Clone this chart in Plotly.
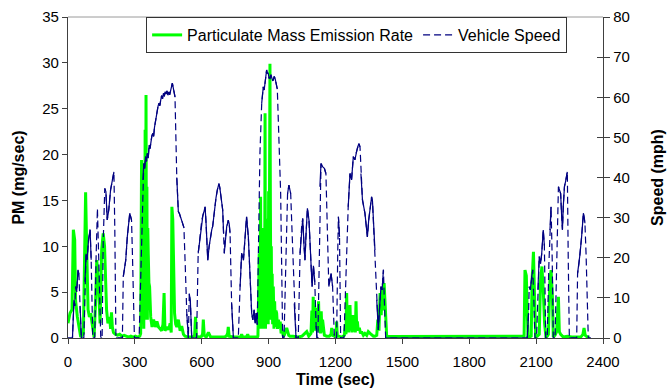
import numpy as np
import plotly.graph_objects as go

# ---------------- data ----------------
speed_t = [0, 20, 27, 31, 34, 39, 45, 49, 54, 60,
           71, 76, 81, 86, 92, 99, 104, 111,
           120, 126, 132, 138, 147,
           153, 158, 165, 170, 176, 183, 191, 198, 206, 210, 215,
           244, 248, 259, 266, 277, 285, 289, 298,
           319, 326, 331, 336, 340, 344, 348, 352, 356, 360, 364, 368, 372, 376, 380, 384, 388, 392, 396, 400,
           404, 408, 412, 416, 420, 424, 428, 432, 436, 440, 444, 448, 452, 456, 460, 464, 468, 472, 476, 480,
           484, 488, 495, 500, 505, 510, 514, 520, 526, 533, 540,
           544, 549, 555,
           577, 584, 590, 596, 600, 605, 610, 615, 619, 622, 627, 633, 640, 645, 649, 654, 659, 664, 670, 674,
           677, 681, 685, 690, 694, 698, 701, 706, 712, 716, 719, 723, 727, 734, 742,
           764, 772, 779, 787, 794, 801, 809, 813, 820, 824, 829, 832, 835, 838, 840, 844, 847, 849, 854, 861,
           869, 876, 880, 884, 888, 891, 894, 898, 902, 906, 910, 914, 918, 921, 925, 929, 932, 936, 939, 954, 963,
           969, 978, 985, 991, 999, 1006, 1015, 1023,
           1033, 1041, 1048, 1053, 1059, 1063, 1068, 1074, 1081, 1089, 1095, 1101, 1107, 1113, 1117,
           1121, 1125, 1130, 1135, 1142, 1150, 1157, 1163, 1170, 1180, 1187, 1195,
           1205, 1210, 1213, 1218, 1223,
           1238, 1247, 1257, 1265, 1272, 1280, 1287, 1292, 1298, 1305, 1310, 1314, 1321, 1332, 1336,
           1343, 1349, 1355, 1362, 1366, 1373, 1377, 1385, 1392, 1398, 1404, 1409, 1415, 1419, 1425,
           2050, 2060, 2066, 2069, 2074, 2080, 2085, 2090, 2095,
           2102, 2108, 2114, 2120, 2125, 2132, 2137, 2143,
           2150, 2157, 2162, 2167, 2172, 2177,
           2185, 2192, 2200, 2205, 2210, 2214, 2218, 2222, 2227, 2232, 2237, 2240, 2244, 2249,
           2282, 2286, 2292, 2297, 2304, 2312, 2316, 2319, 2324, 2330, 2334, 2345]
speed_mph = [0, 0, 9.5, 8, 12.8, 11.5, 17, 16, 8, 0,
             0, 14, 21, 19.5, 24.4, 27, 19.5, 0,
             0, 20, 32.3, 19.5, 0,
             0, 24, 37.3, 36.5, 29.4, 32, 36.9, 39.4, 41.4, 27, 0,
             0, 15.3, 19.4, 25.2, 31.1, 29.4, 21, 0,
             0, 15, 30.2, 39.4, 43.5, 42.2, 45.2, 44.0, 46.0, 44.8, 48.1, 47.2, 49.5, 50.3, 51.0, 50.2, 52.5, 54.0, 55.6, 56.8,
             57.8, 58.5, 57.9, 59.3, 60.4, 59.6, 61.0, 60.2, 61.4, 60.8, 61.6, 60.5, 61.3, 60.6, 61.5, 62.0, 63.5, 62.4, 61.0, 60.1,
             50, 40, 31.5, 31.0, 30.0, 29.5, 28.6, 27.5, 18, 6, 0,
             11.1, 9, 0,
             0, 21.1, 24, 27.5, 29.4, 30.5, 31.5, 32.7, 29, 25.2, 19.4, 22.8, 26.1, 27.0, 27.8, 30.5, 32.7, 35, 36.9, 38,
             38.5, 37.5, 36, 34, 31.9, 26, 21.1, 25, 27.8, 28.6, 29.4, 28.5, 26.1, 8.6, 0,
             0, 12.8, 21.1, 19.4, 25.2, 30.2, 25.2, 19.4, 11.1, 6.2, 4.5, 6, 7.0, 4.5, 3.7, 6.2, 4, 3.3, 21, 46,
             58.5, 62.6, 61.8, 63.5, 64.5, 66.8, 66, 66, 64.8, 64.7, 65.6, 65.1, 64.2, 64.3, 65.2, 64.7, 63.8, 63.5, 62, 36, 0,
             0, 21.1, 36, 38.1, 36, 25.2, 8.6, 0,
             0, 21.1, 27.7, 29.8, 22.8, 19.4, 26.1, 32.3, 29.4, 21.1, 12.8, 18, 14, 3, 0,
             0, 12.8, 37.7, 43.5, 42.7, 42.3, 41, 25.2, 12.8, 16.1, 12.8, 0,
             0, 21.1, 30.2, 25.2, 0,
             0, 16, 32.7, 41, 39.4, 45.2, 44.4, 46, 47.3, 48.5, 47.6, 41, 34.4, 31.1, 28.6,
             25.2, 29.4, 32.7, 35.2, 34, 26.1, 21.9, 9.5, 2, 7.8, 12.8, 12, 17, 9.5, 0,
             0, 0, 6.2, 12.8, 12, 15.3, 17, 9, 0,
             0, 12, 20.3, 18.5, 21, 26.9, 23, 0,
             0, 18, 26.9, 32.7, 20, 0,
             0, 20, 37.7, 37, 36, 31, 27, 33, 37.7, 39, 40.2, 41.4, 20, 0,
             0, 16.1, 18.5, 21, 25.2, 31.1, 30, 28.6, 21, 8, 0, 0]

pm_t = [0, 9, 18, 24, 30, 34, 42, 49, 57, 69, 75, 79, 84, 90, 96, 102, 108, 117, 124, 129,
        135, 139, 144, 151, 158, 164, 169, 173, 179, 187, 191, 195, 199, 204, 212, 222, 232, 242, 252, 262,
        272, 282, 292, 302, 312, 322,
        326, 328, 330, 332, 334, 336, 338, 340, 342, 344, 346, 348, 350, 352, 354, 356, 358, 360,
        363, 366, 371, 377, 384, 392, 399, 406, 413, 420, 426, 431, 435, 441, 446, 452, 458, 463, 466, 470,
        474, 478, 483, 488, 495, 503, 510, 518,
        525, 540, 560, 568, 572, 576, 590, 600, 604, 607, 611, 620, 630, 640, 660, 680, 700, 710, 716, 719,
        723, 740, 760, 775, 779, 783, 800, 806, 810, 830, 850,
        852, 855, 858, 861, 864, 866, 868, 870, 872, 874, 876, 878, 880, 882, 884, 886, 888, 890, 892, 894,
        896, 898, 900, 902, 904, 906, 908, 910, 912, 914, 916, 918, 921, 924, 927, 930, 933, 936, 940, 944,
        948, 952, 956, 960, 966,
        970, 981, 990, 996, 1010, 1030, 1050, 1071, 1080, 1090, 1094, 1097, 1100, 1103, 1106, 1109, 1112, 1115, 1118, 1121,
        1124, 1127, 1130, 1133, 1136, 1139, 1142, 1145, 1150, 1160, 1172, 1180, 1183, 1186, 1195, 1203, 1205, 1208, 1215, 1230,
        1240, 1244, 1247, 1250, 1253, 1256, 1259, 1262, 1265, 1268, 1271, 1274, 1277, 1280, 1283, 1286, 1289, 1292, 1295, 1298,
        1302, 1307, 1312, 1317, 1325, 1332, 1340, 1347, 1355, 1362, 1370, 1377, 1385, 1390, 1395, 1400, 1405, 1410, 1414, 1418,
        1422, 1426, 1430,
        1440, 2040, 2046, 2050, 2056, 2060, 2064, 2070, 2078, 2082, 2088, 2093, 2098, 2105, 2114, 2120, 2126, 2132, 2138, 2144,
        2150, 2155, 2162, 2167, 2173, 2177, 2185, 2192, 2200, 2204, 2210, 2222, 2240, 2260, 2280, 2300, 2310, 2315, 2320, 2330,
        2340]
pm_mg = [1.6, 2.7, 3.1, 11.8, 10.7, 4.1, 2.3, 1.2, 0.1, 0.5, 7.8, 15.9, 9.6, 3.1, 2.3, 2.7, 1.6, 0.1, 4.1, 8.5,
         6.7, 4.1, 1.6, 9.6, 11.4, 10.0, 6.1, 3.1, 1.6, 2.3, 1.0, 2.8, 1.2, 0.6, 0.4, 0.3, 0.4, 0.2, 0.3, 0.2,
         0.1, 0.2, 0.1, 0.2, 0.1, 0.2,
         0.5, 9.6, 19.4, 2, 18.5, 1.5, 17, 1, 19, 2, 22.7, 3, 26.5, 5, 16.5, 2, 12, 9.2,
         6, 5.6, 2.3, 1.2, 2.0, 1.2, 1.8, 1.2, 1.0, 0.8, 1.5, 4.9, 0.8, 1.0, 1.2, 0.9, 1.6, 0.6, 14.3, 12.9,
         5.6, 2.7, 1.5, 1.2, 2.0, 0.8, 1.3, 0.4,
         0.2, 0.1, 0.1, 0.3, 2.3, 0.2, 0.1, 0.2, 0.5, 2.0, 0.3, 0.1, 0.6, 0.1, 0.1, 0.1, 0.1, 0.2, 0.5, 1.2,
         0.2, 0.1, 0.1, 0.1, 0.4, 0.1, 0.1, 0.4, 0.1, 0.1, 0.1,
         0.2, 6, 9.2, 2, 15.4, 1, 11, 1.5, 10, 1, 12, 2, 11, 1.5, 24.5, 1, 10, 1.5, 13, 2,
         12, 1.5, 16, 2, 18, 29.9, 14, 3, 10, 2, 7, 1.5, 5.6, 1, 4, 1.2, 3, 2.7, 1.0, 2.0,
         1.2, 1.8, 0.5, 0.9, 0.2,
         0.3, 1.1, 0.3, 0.2, 0.2, 0.1, 0.2, 0.7, 0.2, 0.5, 3, 0.6, 4.5, 1, 3.5, 0.8, 3.3, 1.2, 2.5, 0.7,
         4.0, 1, 2.5, 0.5, 2.9, 0.6, 2, 1.1, 0.3, 0.2, 0.2, 0.4, 1.1, 0.3, 0.2, 0.5, 1.8, 0.2, 0.2, 0.1,
         0.3, 1.5, 0.4, 4.9, 1, 3, 0.6, 2.5, 3.6, 0.8, 2.5, 0.6, 2, 2.5, 0.7, 1.8, 0.6, 4.0, 1.2, 1.8,
         0.8, 1.1, 0.5, 0.7, 0.3, 0.5, 0.3, 0.7, 0.5, 0.4, 0.2, 0.2, 0.3, 2.0, 0.8, 4.9, 2.5, 5.5, 3, 6.0,
         3.5, 0.5, 0,
         0.15, 0.15, 0.2, 7.4, 6.8, 3, 0.1, 0.1, 0.2, 6.3, 9.4, 4.5, 0.1, 0.2, 0.4, 6.3, 7.8, 5.2, 1.6, 0.1,
         0.2, 0.4, 6.3, 7.4, 4.5, 0.1, 0.3, 0.7, 4.5, 0.7, 0.4, 0.1, 0.2, 0.1, 0.1, 0.1, 0.4, 1.1, 0.3, 0.1,
         0.1]

time_ticks = [0, 300, 600, 900, 1200, 1500, 1800, 2100, 2400]
pm_ticks = [0, 5, 10, 15, 20, 25, 30, 35]
speed_ticks = [0, 10, 20, 30, 40, 50, 60, 70, 80]

# ---------------- styling ----------------
FONT = "Arial, 'Liberation Sans', sans-serif"
AXIS = "#404040"
NAVY = "#000080"
GREEN = "#00FF00"

# Excel restarts the dash at every data segment, so slowly varying parts look solid.
st = np.array(speed_t, dtype=float)
sv = np.array(speed_mph, dtype=float)
slope = np.abs(np.diff(sv) / np.diff(st))
solid_x, solid_y = [], []
last_end = None
for i, s in enumerate(slope):
    if s <= 1.5:
        if last_end == i:
            solid_x.append(st[i + 1]); solid_y.append(sv[i + 1])
        else:
            if solid_x:
                solid_x.append(None); solid_y.append(None)
            solid_x += [st[i], st[i + 1]]; solid_y += [sv[i], sv[i + 1]]
        last_end = i + 1

fig = go.Figure()
fig.add_trace(go.Scatter(x=pm_t, y=pm_mg, mode="lines", name="Particulate Mass Emission Rate",
                         line=dict(color=GREEN, width=3), yaxis="y"))
fig.add_trace(go.Scatter(x=speed_t, y=speed_mph, mode="lines", name="Vehicle Speed",
                         line=dict(color=NAVY, width=1.2, dash="7px,4px"), yaxis="y2"))
fig.add_trace(go.Scatter(x=solid_x, y=solid_y, mode="lines", showlegend=False,
                         line=dict(color=NAVY, width=1.2), yaxis="y2", connectgaps=False))

tickfont = dict(family=FONT, size=15, color="#000")
titlefont = dict(family=FONT, size=16, color="#000")

fig.update_layout(
    width=671, height=392,
    margin=dict(l=68, r=68, t=17, b=54, autoexpand=False),
    paper_bgcolor="white", plot_bgcolor="white",
    font=dict(family=FONT, color="#000"),
    xaxis=dict(range=[0, 2400], tickvals=time_ticks, ticks="outside", ticklen=5, tickcolor=AXIS,
               ticklabelstandoff=5, automargin=False,
               showline=True, linecolor=AXIS, linewidth=1.3, showgrid=False, zeroline=False,
               tickfont=tickfont, title=dict(text="<b>Time (sec)</b>", font=titlefont, standoff=4)),
    yaxis=dict(range=[0, 35], tickvals=pm_ticks, ticks="outside", ticklen=5, tickcolor=AXIS,
               automargin=False,
               showline=True, linecolor=AXIS, linewidth=1.3, showgrid=False, zeroline=False,
               tickfont=tickfont, title=dict(text="<b>PM (mg/sec)</b>", font=titlefont, standoff=13)),
    yaxis2=dict(range=[0, 80], tickvals=speed_ticks, ticks="outside", ticklen=6, tickcolor=AXIS,
                automargin=False,
                overlaying="y", side="right", showline=True, linecolor=AXIS, linewidth=1.3,
                showgrid=False, zeroline=False, tickfont=tickfont,
                title=dict(text="<b>Speed (mph)</b>", font=titlefont, standoff=22)),
    yaxis3=dict(range=[0, 80], tickvals=speed_ticks, ticks="inside", ticklen=6, tickcolor=AXIS,
                automargin=False,
                overlaying="y", side="right", showline=False, showgrid=False, zeroline=False,
                showticklabels=False),
    legend=dict(orientation="h", x=0.146, y=1.0, xanchor="left", yanchor="top",
                bgcolor="white", bordercolor="#333", borderwidth=1,
                font=dict(family=FONT, size=16, color="#000")),
    shapes=[dict(type="line", xref="paper", yref="paper", x0=0, x1=1, y0=1, y1=1,
                 line=dict(color="#9a9a9a", width=1), layer="below")],
    showlegend=True,
)
# invisible trace so the crossing-tick axis (yaxis3) is drawn
fig.add_trace(go.Scatter(x=[None], y=[None], yaxis="y3", showlegend=False, hoverinfo="skip"))

fig.write_html("out.html")
